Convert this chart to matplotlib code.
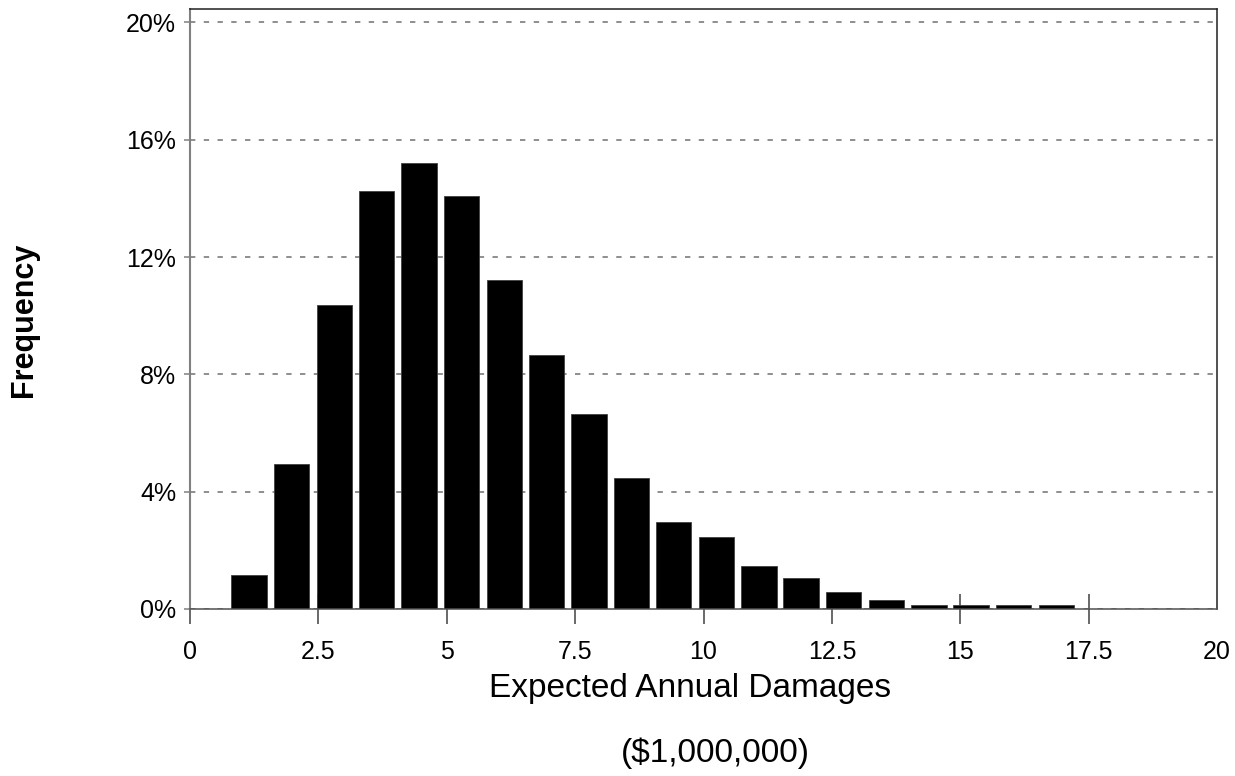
import matplotlib
matplotlib.use('Agg')
import matplotlib.pyplot as plt
from matplotlib.ticker import FuncFormatter

plt.rcParams['font.family'] = ['Liberation Sans', 'DejaVu Sans']

# bin centres ($1,000,000) and frequency (%)
bin_centres = [1.15, 1.98, 2.81, 3.63, 4.46, 5.29, 6.12, 6.94, 7.77, 8.60,
               9.42, 10.25, 11.08, 11.90, 12.73, 13.56, 14.39, 15.21, 16.04, 16.87]
freq_pct = [1.15, 4.96, 10.35, 14.24, 15.20, 14.07, 11.21, 8.66, 6.66, 4.48,
            2.95, 2.47, 1.46, 1.05, 0.58, 0.30, 0.12, 0.12, 0.12, 0.12]
x_ticks = [0, 2.5, 5, 7.5, 10, 12.5, 15, 17.5, 20]
x_tick_labels = ['0', '2.5', '5', '7.5', '10', '12.5', '15', '17.5', '20']
y_ticks = [0, 4, 8, 12, 16, 20]

fig = plt.figure(figsize=(12.35, 7.76), dpi=100)
ax = fig.add_axes([190/1235, 1 - 609/776, (1217-190)/1235, (609-9)/776])

ax.set_axisbelow(True)
ax.yaxis.grid(True, color='#707070', linestyle=(0, (3.5, 5.5)), linewidth=1.1)
ax.bar(bin_centres, freq_pct, width=0.69, color='black', edgecolor='#404040', linewidth=0.6, zorder=3)

ax.set_xlim(0, 20)
ax.set_ylim(0, 20.46)
ax.set_xticks(x_ticks)
ax.set_xticklabels(x_tick_labels)
ax.set_yticks(y_ticks)
ax.yaxis.set_major_formatter(FuncFormatter(lambda v, p: '%d%%' % v))

ax.tick_params(axis='x', direction='inout', length=22, width=1.1, color='#404040',
               pad=11, labelsize=18)
ax.tick_params(axis='y', direction='out', length=4, width=1.1, color='#808080',
               pad=6, labelsize=18)
# no tick mark under the right-hand corner
ax.xaxis.get_major_ticks()[-1].tick1line.set_visible(False)

for side in ['top', 'right']:
    ax.spines[side].set_color('#202020')
    ax.spines[side].set_linewidth(1.1)
ax.spines['left'].set_color('#808080')
ax.spines['left'].set_linewidth(1.5)
ax.spines['bottom'].set_color('#505050')
ax.spines['bottom'].set_linewidth(1.1)
ax.spines['bottom'].set_zorder(4)

fig.text(690/1235, 1 - 697/776, 'Expected Annual Damages', ha='center', va='baseline', fontsize=24)
fig.text(715/1235, 1 - 762/776, '($1,000,000)', ha='center', va='baseline', fontsize=24)
fig.text(24/1235, 1 - 320/776, 'Frequency', rotation=90, ha='center', va='center',
         fontsize=22, fontweight='bold')

fig.savefig('out.png', dpi=100)
